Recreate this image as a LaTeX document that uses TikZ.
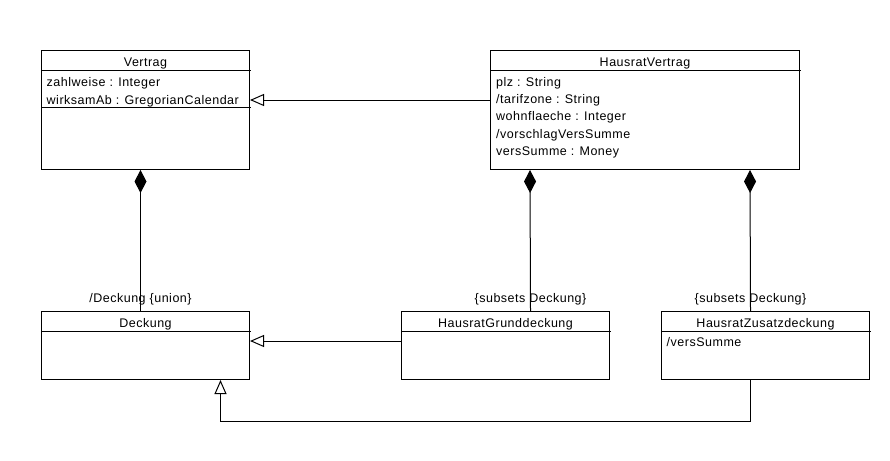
\documentclass[tikz,border=0pt]{standalone}
\usepackage{fontspec}
\setmainfont[LetterSpace=4]{Liberation Sans}
\usetikzlibrary{arrows.meta,positioning}

\tikzset{
  umlbox/.style={draw,line width=1pt,anchor=north west,inner sep=0pt},
  umltitle/.style={anchor=base,inner sep=0pt},
  umlattr/.style={anchor=base west,inner sep=0pt},
  rolelabel/.style={anchor=base,inner sep=0pt},
  inherit/.style={line width=1pt,-{Triangle[open,length=14pt,width=12pt]}},
  compose/.style={line width=1pt,{Diamond[length=23pt,width=12pt]}-}
}

\begin{document}
\begin{tikzpicture}[x=1pt,y=-1pt,font=\fontsize{12.5}{17.4}\selectfont]
\useasboundingbox (0,0) rectangle (890,460);

% classes
\node[umlbox,minimum width=208pt,minimum height=119pt] (vertrag) at (41,50) {};
\node[umlbox,minimum width=309pt,minimum height=119pt] (hausrat) at (490,50) {};
\node[umlbox,minimum width=208pt,minimum height=68pt] (deckung) at (41,311) {};
\node[umlbox,minimum width=208pt,minimum height=68pt] (grund) at (401,311) {};
\node[umlbox,minimum width=208pt,minimum height=68pt] (zusatz) at (661,311) {};

% name compartments
\foreach \c/\t in {vertrag/Vertrag,hausrat/HausratVertrag,deckung/Deckung,grund/HausratGrunddeckung,zusatz/HausratZusatzdeckung} {
  \draw[line width=1pt] ([yshift=-20pt]\c.north west) -- ([xshift=1pt,yshift=-20pt]\c.north east);
  \node[umltitle] (\c-title) at ([yshift=-16.5pt]\c.north) {\t};
}
\draw[line width=1pt] ([yshift=-57pt]vertrag.north west) -- ([xshift=1pt,yshift=-57pt]vertrag.north east);

% attributes
\foreach \a [count=\i] in {zahlweise : Integer,wirksamAb : GregorianCalendar}
  \node[umlattr] (vertrag-a\i) at ([xshift=5.5pt,yshift={-36.5pt-17.5pt*(\i-1)}]vertrag.north west) {\a};
\foreach \a [count=\i] in {plz : String,/tarifzone : String,wohnflaeche : Integer,/vorschlagVersSumme,versSumme : Money}
  \node[umlattr] (hausrat-a\i) at ([xshift=6pt,yshift={-36pt-17.4pt*(\i-1)}]hausrat.north west) {\a};
\node[umlattr] (zusatz-a1) at ([xshift=5.5pt,yshift=-35pt]zusatz.north west) {/versSumme};

% generalisations
\draw[inherit] ([yshift=-50pt]hausrat.north west) -- ([yshift=-50pt]vertrag.north east);
\draw[inherit] ([yshift=-30pt]grund.north west) -- ([yshift=-30pt]deckung.north east);
\draw[inherit] ([xshift=-15pt]zusatz.south) -- ++(0,41) -| ([xshift=75pt]deckung.south);

% compositions
\draw[compose] ([xshift=-5pt]vertrag.south) -- ([xshift=-5pt]deckung.north);
\draw[compose] ([xshift=40pt]hausrat.south west) -- ([xshift=25pt]grund.north);
\draw[compose] ([xshift=260pt]hausrat.south west) -- ([xshift=-15pt]zusatz.north);

% role names
\node[rolelabel] (deckung-role) at ([xshift=-5pt,yshift=9pt]deckung.north) {/Deckung \{union\}};
\node[rolelabel] (grund-role) at ([xshift=25pt,yshift=9pt]grund.north) {\{subsets Deckung\}};
\node[rolelabel] (zusatz-role) at ([xshift=-15pt,yshift=9pt]zusatz.north) {\{subsets Deckung\}};

\end{tikzpicture}
\end{document}
